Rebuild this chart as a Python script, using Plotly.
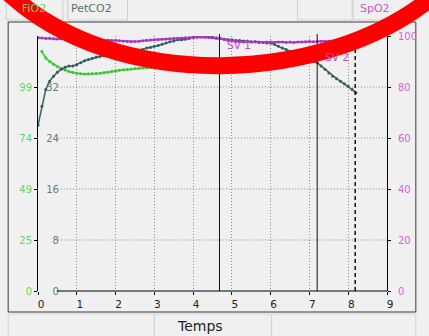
import plotly.graph_objects as go

# ---- data -------------------------------------------------------------
time_min = [round(0.1 * i, 1) for i in range(83)]  # 0.0 .. 8.2

petco2 = [
    26.0, 29.0, 31.6, 32.9, 33.7, 34.3, 34.8, 35.1, 35.3, 35.3,
    35.5, 35.8, 36.1, 36.3, 36.5, 36.7, 36.8, 36.9, 37.0, 37.1,
    37.2, 37.2, 37.3, 37.4, 37.6, 37.7, 37.8, 37.9, 38.1, 38.2,
    38.4, 38.5, 38.7, 38.9, 39.1, 39.2, 39.4, 39.4, 39.5, 39.6,
    39.8, 39.9, 40.0, 39.9, 39.9, 39.8, 39.7, 39.6, 39.5, 39.4,
    39.4, 39.3, 39.3, 39.2, 39.2, 39.1, 39.1, 39.0, 39.0, 38.9,
    38.9, 38.7, 38.4, 38.1, 37.9, 37.6, 37.3, 37.0, 36.7, 36.4,
    36.2, 36.0, 35.8, 35.3, 34.8, 34.2, 33.7, 33.3, 32.9, 32.5,
    32.1, 31.6, 31.1,
]

spo2 = [
    99.3, 99.2, 99.0, 99.1, 98.9, 98.8, 98.9, 98.7, 98.8, 98.6,
    98.7, 98.5, 98.6, 98.4, 98.5, 98.3, 98.4, 98.2, 98.3, 98.2,
    98.3, 98.1, 97.9, 97.8, 97.7, 97.8, 97.9, 98.1, 98.3, 98.4,
    98.5, 98.6, 98.7, 98.8, 98.9, 99.0, 99.1, 99.2, 99.3, 99.3,
    99.4, 99.5, 99.6, 99.5, 99.4, 99.3, 99.2, 99.1, 98.7, 98.3,
    98.0, 97.8, 97.7, 97.6, 97.7, 97.6, 97.7, 97.6, 97.5, 97.6,
    97.6, 97.5, 97.6, 97.6, 97.5, 97.6, 97.5, 97.6, 97.6, 97.7,
    97.8, 97.7, 97.8, 97.9, 97.8, 97.9, 98.0, 97.9, 98.0, 98.0,
    98.1, 98.0, 98.1,
]

fio2 = [
    None, 116.0, 112.8, 111.2, 109.8, 108.7, 107.8, 107.0, 106.3, 105.8,
    105.4, 105.2, 105.1, 105.1, 105.2, 105.3, 105.5, 105.7, 106.0, 106.3,
    106.6, 106.9, 107.1, 107.3, 107.5, 107.7, 107.9, 108.0, 108.1, 108.2,
    108.3, 108.3, 108.2, 108.1, 108.0, 107.9, 107.8, 107.7, 107.7, 107.8,
    107.9, 108.0, 108.2, 108.4, 108.6, 108.8, 109.0, 109.3, 109.7, 110.1,
    110.5, 110.9, 111.3, 111.6, 111.9, 112.2, 112.5, 112.8, 113.0, 113.2,
    113.5, 113.7, 113.9, 114.2, 114.5, 114.7, 115.0, 115.3, 115.6, 115.9,
    116.3, 116.7, 117.2, 117.8, 118.5, 119.2, 119.9, 120.6, 121.2, 121.7,
    122.2, 122.6, 123.0,
]

o2_ticks = [0, 24.7, 49.4, 74.1, 98.8]
o2_ticktext = ["0", "25", "49", "74", "99"]
co2_ticks = [0, 8, 16, 24, 32]
spo2_ticks = [0, 20, 40, 60, 80, 100]
time_ticks = list(range(10))

event_labels = ["SV 1", "SV 2"]
event_times = [4.68, 7.2]
end_time = 8.18

# ---- colours ----------------------------------------------------------
GREEN = "#4fd64f"
GREEN_TXT = "#62d862"
TEAL = "#3d6a6a"
TEAL_TXT = "#5f7d7d"
MAGENTA = "#b63fd0"
PINK_TXT = "#d862d8"
BG = "#f0f0f0"
GRID = "#8c8c8c"
GRID_DASH = "1px,2px"

# ---- geometry (pixels -> paper) ---------------------------------------
W, H = 429, 336
L, R, T, B = 38, 40, 36, 45
PW, PH = W - L - R, H - T - B


def px(x):
    return (x - L) / PW


def py(y):
    return (H - B - y) / PH


fig = go.Figure()

fig.add_trace(go.Scatter(
    x=time_min, y=fio2, yaxis="y", mode="lines+markers", name="FiO2",
    line=dict(color=GREEN, width=2), marker=dict(color="#3cc43c", size=3),
    connectgaps=False,
))
fig.add_trace(go.Scatter(
    x=time_min, y=petco2, yaxis="y2", mode="lines+markers", name="PetCO2",
    line=dict(color=TEAL, width=1.6), marker=dict(color="#355c5c", size=3),
))
fig.add_trace(go.Scatter(
    x=time_min, y=spo2, yaxis="y3", mode="lines+markers", name="SpO2",
    line=dict(color=MAGENTA, width=2), marker=dict(color="#a535c0", size=3),
))

shapes = []

# outer frame
shapes.append(dict(type="rect", xref="paper", yref="paper",
                   x0=px(8), x1=px(418), y0=py(312), y1=py(22),
                   line=dict(color="#3a3a3a", width=1), layer="below"))

# tab strip on top
for x0, x1 in [(6, 63), (68, 128), (299, 354), (355, 420)]:
    shapes.append(dict(type="rect", xref="paper", yref="paper",
                       x0=px(x0), x1=px(x1), y0=py(20), y1=py(-2),
                       line=dict(color="#cfcfcf", width=1), fillcolor="#f0f0f0",
                       layer="below"))

# bottom strip
for x0, x1 in [(8, 155), (155, 273), (273, 418)]:
    shapes.append(dict(type="rect", xref="paper", yref="paper",
                       x0=px(x0), x1=px(x1), y0=py(338), y1=py(314),
                       line=dict(color="#d2d2d2", width=1), fillcolor="#f0f0f0",
                       layer="below"))

# horizontal dotted grid
for v in spo2_ticks[1:-1]:
    shapes.append(dict(type="line", xref="paper", yref="y3",
                       x0=px(58), x1=1, y0=v, y1=v,
                       line=dict(color=GRID, width=1, dash=GRID_DASH),
                       layer="below"))

# bottom axis line
shapes.append(dict(type="line", xref="paper", yref="paper",
                   x0=px(57), x1=1, y0=0, y1=0,
                   line=dict(color="#000000", width=1)))

# event markers
for t in event_times:
    shapes.append(dict(type="line", xref="x", yref="paper",
                       x0=t, x1=t, y0=0, y1=py(34),
                       line=dict(color="#111111", width=1)))
shapes.append(dict(type="line", xref="x", yref="paper",
                   x0=end_time, x1=end_time, y0=0, y1=py(34),
                   line=dict(color="#111111", width=1.5, dash="4px,3px")))

# red stroke across the top
p = [(5, -10), (115, 95), (330, 85), (437, -5)]
path = "M{:.4f},{:.4f} C{:.4f},{:.4f} {:.4f},{:.4f} {:.4f},{:.4f}".format(
    *[c for (x, y) in p for c in (px(x), py(y))])
shapes.append(dict(type="path", xref="paper", yref="paper", path=path,
                   line=dict(color="#ff0000", width=17), layer="above"))

annotations = []
for lab, t, yy in zip(event_labels, event_times, [45, 57]):
    annotations.append(dict(x=t, y=py(yy), xref="x", yref="paper", text=lab,
                            showarrow=False, xanchor="left", yanchor="middle",
                            xshift=6, font=dict(color="#cc44cc", size=10.5)))


def label(x, y, text, color, size):
    return dict(x=px(x), y=py(y), xref="paper", yref="paper", text=text,
                showarrow=False, xanchor="center", yanchor="middle",
                font=dict(color=color, size=size))


annotations += [
    label(34, 9, "FiO2", GREEN_TXT, 11),
    label(92, 9, "PetCO2", "#557373", 11),
    label(377, 9, "SpO2", "#cc55cc", 11),
    label(201, 326, "Temps", "#1e1e1e", 14),
]

fig.update_layout(
    width=W, height=H,
    margin=dict(l=L, r=R, t=T, b=B, pad=0),
    paper_bgcolor=BG, plot_bgcolor=BG,
    showlegend=False,
    font=dict(family="DejaVu Sans", size=10, color="#202020"),
    xaxis=dict(range=[0, 9], tickvals=time_ticks, showgrid=True,
               griddash=GRID_DASH, gridcolor=GRID, gridwidth=1,
               showline=False, zeroline=False, ticks="outside", ticklen=3,
               tickcolor="#000000", ticklabelshift=3,
               tickfont=dict(size=10.5, color="#202020")),
    yaxis=dict(range=[0, 123.5], tickvals=o2_ticks, ticktext=o2_ticktext,
               showgrid=False, zeroline=False, showline=True,
               linecolor="#000000", linewidth=1, ticks="outside", ticklen=3,
               tickcolor="#000000", tickfont=dict(size=10, color=GREEN_TXT)),
    yaxis2=dict(range=[0, 40], tickvals=co2_ticks, overlaying="y",
                anchor="free", position=px(59), side="left",
                showgrid=False, zeroline=False, showline=False, ticks="",
                tickfont=dict(size=10, color=TEAL_TXT)),
    yaxis3=dict(range=[0, 100], tickvals=spo2_ticks, overlaying="y",
                anchor="x", side="right", showgrid=False, zeroline=False,
                showline=True, linecolor="#000000", linewidth=1,
                ticks="outside", ticklen=3, tickcolor="#000000",
                ticklabelstandoff=5,
                tickfont=dict(size=10, color=PINK_TXT)),
    shapes=shapes,
    annotations=annotations,
)

fig.write_html("out.html")
